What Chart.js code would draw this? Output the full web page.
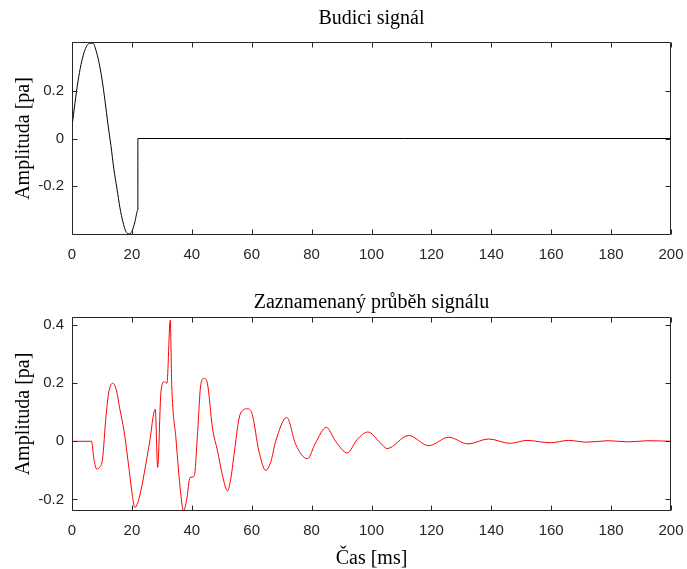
<!DOCTYPE html>
<html lang="cs">
<head>
<meta charset="utf-8">
<title>Budici signál</title>
<script src="https://cdn.jsdelivr.net/npm/chart.js@4.4.1/dist/chart.umd.min.js"></script>
<style>
  body { margin: 0; background: #fff; }
  #wrap { position: relative; width: 687px; height: 569px; }
  .box { position: absolute; left: 0; width: 687px; }
  #topBox { top: 0; height: 270px; }
  #bottomBox { top: 270px; height: 299px; }
</style>
</head>
<body>
<div id="wrap">
  <div class="box" id="topBox"><canvas id="budiciChart" width="687" height="270"></canvas></div>
  <div class="box" id="bottomBox"><canvas id="zaznamChart" width="687" height="299"></canvas></div>
</div>
<script>
// osa x (ms) a popisky
const casTicks = [0, 20, 40, 60, 80, 100, 120, 140, 160, 180, 200];
const budiciTicks = [-0.2, 0, 0.2];
const zaznamTicks = [-0.2, 0, 0.2, 0.4];

// budici signal
const budiciCas = [0, 1, 2, 3, 4, 5, 6, 7, 8, 9, 10, 11, 12, 13, 14, 15, 16, 17, 18, 19, 20, 21, 22, 22, 200];
const budiciHodnota = [0.05, 0.15, 0.24, 0.31, 0.36, 0.39, 0.40, 0.40, 0.37, 0.32, 0.25, 0.16, 0.06, -0.03, -0.13, -0.21, -0.29, -0.35, -0.39, -0.40, -0.39, -0.35, -0.30, 0, 0];

// zaznamenany prubeh
const zaznamCas = [0, 6.5, 7.3, 8.2, 9.2, 10.2, 11.3, 12.3, 13.6, 14.7, 16, 17.4, 19.1, 20.2, 21, 22, 23, 25.8, 27.8, 28.6, 29.7, 30.8, 31.7, 32.8, 33.3, 34.7, 36.3, 37.2, 38.3, 39.4, 40.8, 41.9, 43, 44.1, 45.2, 46.9, 48.6, 50.3, 51.9, 53, 54.1, 55.8, 57.2, 58.6, 60.2, 62.4, 64.7, 66.4, 68, 71.7, 74.7, 78.6, 81.3, 84.9, 88, 91.9, 95.2, 98.8, 103, 105.2, 112.4, 119.1, 125.8, 132.2, 139.1, 146.3, 151.9, 159.7, 165.8, 171.9, 179.1, 185.8, 192.3, 200];
const zaznamHodnota = [0, 0, -0.06, -0.095, -0.09, -0.06, 0.08, 0.17, 0.20, 0.18, 0.11, 0.034, -0.10, -0.19, -0.228, -0.21, -0.17, -0.01, 0.11, -0.09, 0.17, 0.205, 0.20, 0.417, 0.195, 0.01, -0.18, -0.24, -0.20, -0.125, -0.12, 0.024, 0.195, 0.217, 0.2, 0.046, -0.034, -0.12, -0.171, -0.13, -0.046, 0.08, 0.108, 0.112, 0.092, -0.034, -0.10, -0.07, 0, 0.082, -0.011, -0.06, -0.006, 0.048, 0, -0.04, 0.006, 0.032, -0.006, -0.025, 0.02, -0.015, 0.014, -0.009, 0.008, -0.007, 0.003, -0.005, 0.003, -0.003, 0.002, -0.002, 0.002, 0];

const axisColor = '#262626';
const tickFont = { family: 'Liberation Sans, Arial', size: 15 };
const serifFont = { family: 'Liberation Serif, Times New Roman', size: 20, weight: 'normal', lineHeight: 1 };

// ramecek kolem grafu a ticky smerem dovnitr (jako v MATLABu)
const ramecekPlugin = {
    id: 'ramecek',
    afterDatasetsDraw(chart) {
        const { ctx, chartArea: a, scales } = chart;
        const left = Math.round(a.left) + 0.5;
        const right = Math.round(a.right) - 0.5;
        const top = Math.round(a.top) + 0.5;
        const bottom = Math.round(a.bottom) - 0.5;
        const len = 5;
        ctx.save();
        ctx.strokeStyle = axisColor;
        ctx.lineWidth = 1;
        ctx.beginPath();
        ctx.rect(left, top, right - left, bottom - top);
        scales.x.ticks.forEach(t => {
            const px = Math.round(scales.x.getPixelForValue(t.value)) + 0.5;
            ctx.moveTo(px, bottom);
            ctx.lineTo(px, bottom - len);
            ctx.moveTo(px, top);
            ctx.lineTo(px, top + len);
        });
        scales.y.ticks.forEach(t => {
            const py = Math.round(scales.y.getPixelForValue(t.value)) + 0.5;
            ctx.moveTo(left, py);
            ctx.lineTo(left + len, py);
            ctx.moveTo(right, py);
            ctx.lineTo(right - len, py);
        });
        ctx.stroke();
        ctx.restore();
    }
};

function body(casy, hodnoty) {
    return casy.map((t, i) => ({ x: t, y: hodnoty[i] }));
}

function vytvorGraf(id, nastaveni) {
    const ctx = document.getElementById(id).getContext('2d');
    return new Chart(ctx, {
        type: 'line',
        data: {
            datasets: [{
                data: body(nastaveni.casy, nastaveni.hodnoty),
                borderColor: nastaveni.barva,
                borderWidth: 1,
                pointRadius: 0,
                fill: false,
                cubicInterpolationMode: 'monotone'
            }]
        },
        options: {
            responsive: false,
            animation: false,
            layout: { padding: { left: 0, right: 16, top: 0, bottom: 0 } },
            plugins: {
                legend: { display: false },
                tooltip: { enabled: false },
                title: {
                    display: true,
                    text: nastaveni.titulek,
                    fullSize: false,
                    color: '#000',
                    font: serifFont,
                    padding: nastaveni.titulekPadding
                }
            },
            scales: {
                x: {
                    type: 'linear',
                    min: 0,
                    max: 200,
                    afterBuildTicks: scale => { scale.ticks = casTicks.map(v => ({ value: v })); },
                    afterFit: scale => {
                        scale.height = nastaveni.vyskaX;
                        scale.paddingLeft = 0;
                        scale.paddingRight = 0;
                    },
                    grid: { display: false, drawTicks: false },
                    border: { display: false },
                    ticks: { color: axisColor, font: tickFont, padding: 11, maxRotation: 0 },
                    title: {
                        display: !!nastaveni.osaX,
                        text: nastaveni.osaX || '',
                        color: '#000',
                        font: serifFont,
                        padding: { top: 0, bottom: 0 }
                    }
                },
                y: {
                    type: 'linear',
                    min: nastaveni.yMin,
                    max: nastaveni.yMax,
                    afterBuildTicks: scale => { scale.ticks = nastaveni.yTicks.map(v => ({ value: v })); },
                    afterFit: scale => { scale.width = 72; },
                    grid: { display: false, drawTicks: false },
                    border: { display: false },
                    ticks: {
                        color: axisColor,
                        font: tickFont,
                        padding: 8,
                        callback: v => (v === 0 ? '0' : v.toFixed(1))
                    },
                    title: {
                        display: true,
                        text: 'Amplituda [pa]',
                        color: '#000',
                        font: serifFont,
                        padding: { top: 14, bottom: 0 }
                    }
                }
            }
        },
        plugins: [ramecekPlugin]
    });
}

vytvorGraf('budiciChart', {
    casy: budiciCas,
    hodnoty: budiciHodnota,
    barva: '#000000',
    titulek: 'Budici signál',
    titulekPadding: { top: 9, bottom: 13 },
    vyskaX: 35,
    yMin: -0.405,
    yMax: 0.405,
    yTicks: budiciTicks
});

vytvorGraf('zaznamChart', {
    casy: zaznamCas,
    hodnoty: zaznamHodnota,
    barva: '#ff0000',
    titulek: 'Zaznamenaný průběh signálu',
    titulekPadding: { top: 23, bottom: 4 },
    vyskaX: 58,
    osaX: 'Čas [ms]',
    yMin: -0.24,
    yMax: 0.428,
    yTicks: zaznamTicks
});
</script>
</body>
</html>
